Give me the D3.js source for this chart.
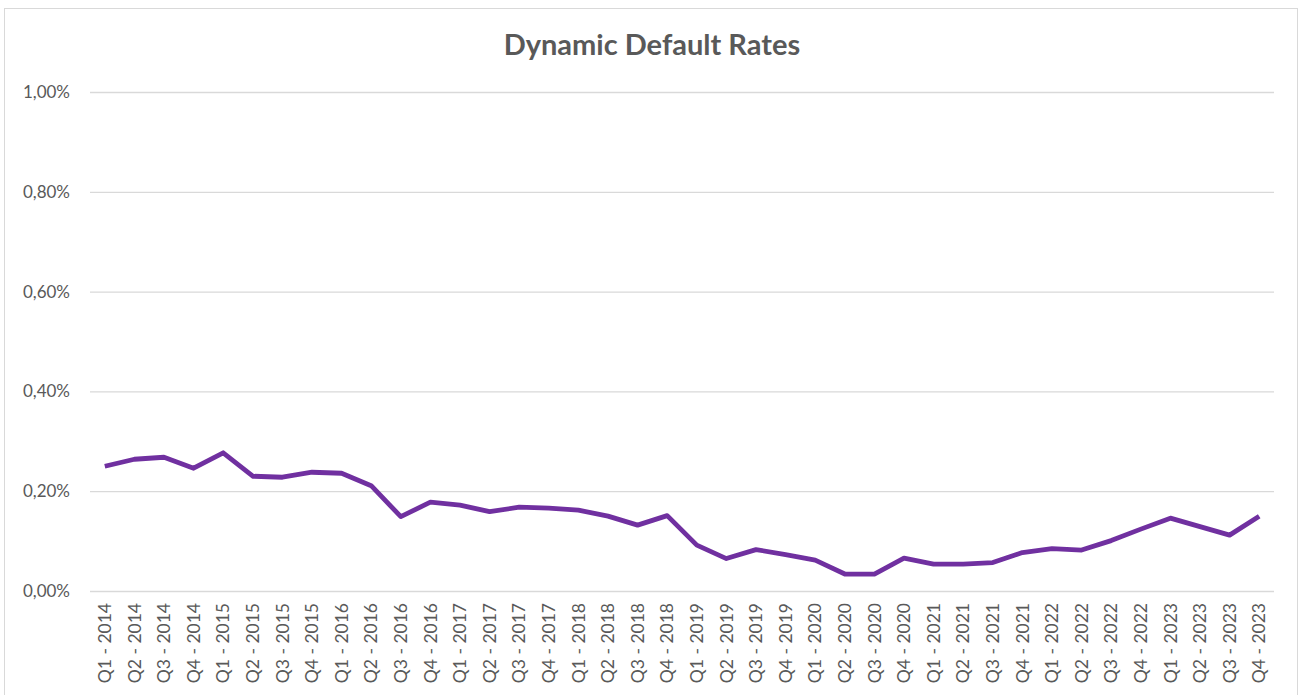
<!DOCTYPE html>
<html><head><meta charset="utf-8">
<script src="https://cdn.jsdelivr.net/npm/d3@7"></script>
<style>body{margin:0;background:#fff;font-family:Lato, "Open Sans", sans-serif;}</style>
</head><body><svg id="c" width="1301" height="695"></svg>
<script>
const years = [2014,2015,2016,2017,2018,2019,2020,2021,2022,2023];
const quarters = ["Q1","Q2","Q3","Q4"];
const categories = years.flatMap(y => quarters.map(q => q + " - " + y));
const rates = [0.250,0.264,0.268,0.246,0.277,0.230,0.228,0.238,0.236,0.211,
               0.149,0.178,0.172,0.159,0.168,0.166,0.162,0.150,0.132,0.151,
               0.092,0.065,0.083,0.073,0.062,0.034,0.034,0.066,0.054,0.054,
               0.057,0.077,0.085,0.082,0.101,0.124,0.146,0.129,0.112,0.150];
const yTicks = [0,0.2,0.4,0.6,0.8,1.0];
const title = "Dynamic Default Rates";

const svg = d3.select("#c");
svg.append("rect").attr("x",4.5).attr("y",8.5).attr("width",1293).attr("height",700)
  .attr("fill","#fff").attr("stroke","#d9d9d9");

const x = d3.scaleBand().domain(categories).range([90,1274]);
const y = d3.scaleLinear().domain([0,1]).range([591,92]);

const gy = svg.append("g").attr("transform","translate(90,0)")
  .call(d3.axisLeft(y).tickValues(yTicks).tickSize(-1184).tickPadding(20)
    .tickFormat(d => d3.format(".2f")(d).replace(".",",") + "%"));
gy.select(".domain").remove();
gy.selectAll("line").attr("stroke","#d9d9d9").attr("stroke-width",1.3);
gy.selectAll("text").attr("fill","#595959").style("font-size","17px").style("font-family","Lato, 'Open Sans', sans-serif");

const gx = svg.append("g").attr("transform","translate(0,591)")
  .call(d3.axisBottom(x).tickSize(0));
gx.select(".domain").remove();
gx.selectAll("text").attr("fill","#595959").style("font-size","17.5px").style("font-family","Lato, 'Open Sans', sans-serif")
  .attr("transform","rotate(-90)").attr("text-anchor","end").attr("dy","0.35em").attr("x",-12).attr("y",0);

const line = d3.line().x((d,i)=>x(categories[i])+x.bandwidth()/2).y(d=>y(d));
svg.append("path").datum(rates).attr("d",line).attr("fill","none")
  .attr("stroke","#7030a0").attr("stroke-width",4.8).attr("stroke-linejoin","round");

svg.append("text").attr("x",652).attr("y",55).attr("text-anchor","middle")
  .attr("fill","#595959").style("font-size","29px").style("font-weight","bold")
  .style("font-family","Lato, 'Open Sans', sans-serif").text(title);
</script></body></html>
